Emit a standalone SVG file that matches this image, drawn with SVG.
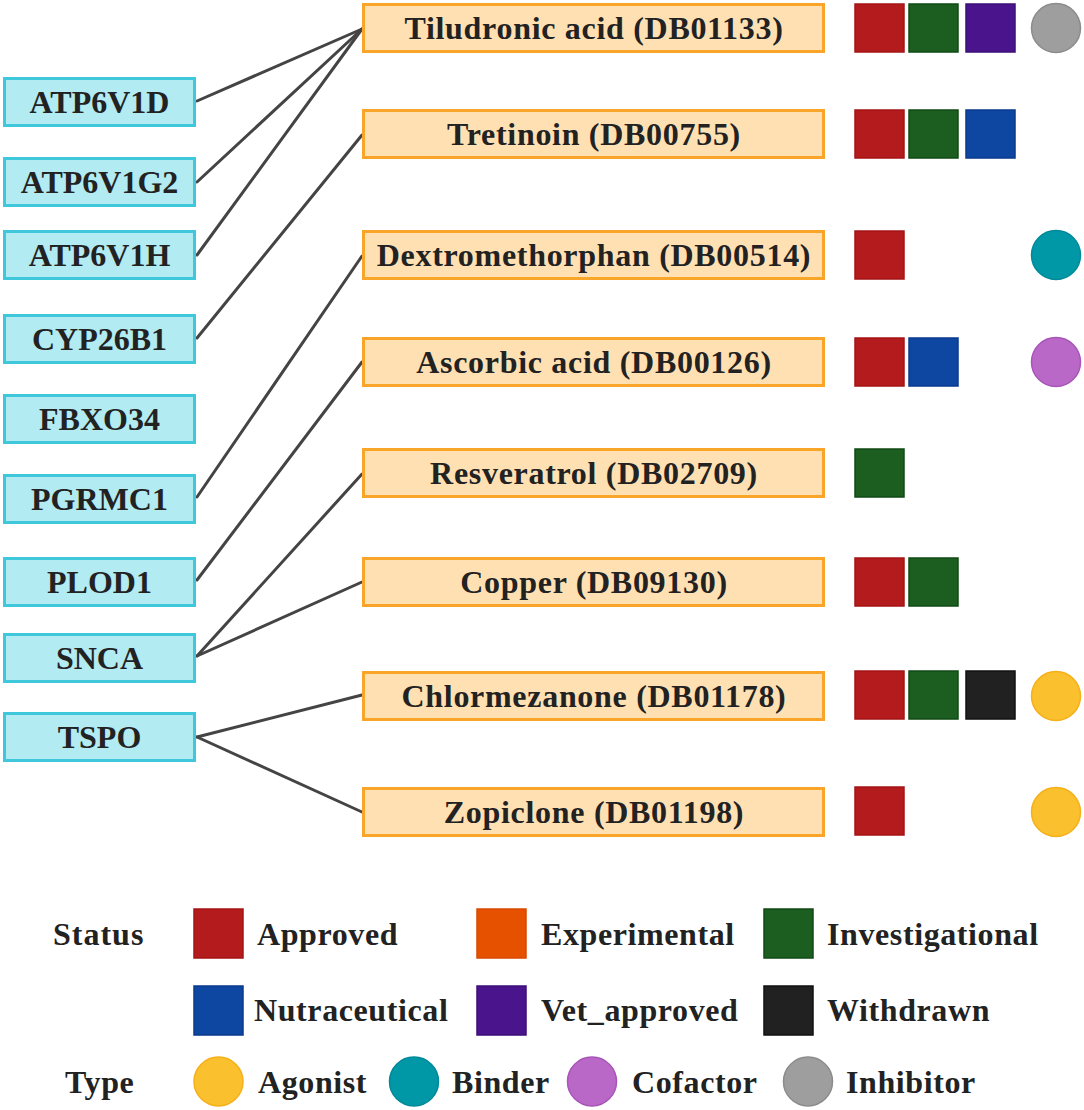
<svg xmlns="http://www.w3.org/2000/svg" width="1084" height="1110" viewBox="0 0 1084 1110">
<style>
text{font-family:"Liberation Serif","Times New Roman",serif;font-weight:bold;fill:#222}
.gene rect{fill:#b2ebf2;stroke:#3fc7dc;stroke-width:3}
.gene text{font-size:32px;text-anchor:middle}
.drug rect{fill:#ffe0b2;stroke:#f9a52a;stroke-width:3}
.drug text{font-size:32px;letter-spacing:0.7px;text-anchor:middle}
.lg{font-size:32px;letter-spacing:0.6px}
.edges line{stroke:#444;stroke-width:3;stroke-linecap:round}
.ap{fill:#b41b1d;stroke:#a51416;stroke-width:1.5}
.ex{fill:#e65100;stroke:#d84a00;stroke-width:1.5}
.iv{fill:#1b5e20;stroke:#104a14;stroke-width:1.5}
.nu{fill:#0d47a1;stroke:#0a3a8c;stroke-width:1.5}
.vt{fill:#4a148c;stroke:#3d0f78;stroke-width:1.5}
.wd{fill:#212121;stroke:#111;stroke-width:1.5}
.ag{fill:#fbc02d;stroke:#f5b01a;stroke-width:1.5}
.bd{fill:#0097a7;stroke:#008a99;stroke-width:1.5}
.cf{fill:#ba68c8;stroke:#a855b8;stroke-width:1.5}
.ih{fill:#9e9e9e;stroke:#8c8c8c;stroke-width:1.5}
</style>
<g class="edges" id="connectors">
<line x1="197" y1="101" x2="362" y2="29"/>
<line x1="197" y1="182" x2="362" y2="29"/>
<line x1="197" y1="255" x2="362" y2="29"/>
<line x1="197" y1="338" x2="362" y2="135"/>
<line x1="197" y1="497" x2="362" y2="256"/>
<line x1="197" y1="580" x2="362" y2="362"/>
<line x1="197" y1="656" x2="362" y2="474"/>
<line x1="197" y1="656" x2="362" y2="582"/>
<line x1="197" y1="737" x2="362" y2="695"/>
<line x1="197" y1="737" x2="362" y2="812"/>
</g>
<g class="gene" id="g-ATP6V1D"><rect x="4.5" y="78.5" width="190" height="47"/><text x="99.5" y="113">ATP6V1D</text></g>
<g class="gene" id="g-ATP6V1G2"><rect x="4.5" y="158.5" width="190" height="47"/><text x="99.5" y="193">ATP6V1G2</text></g>
<g class="gene" id="g-ATP6V1H"><rect x="4.5" y="231.5" width="190" height="47"/><text x="99.5" y="266">ATP6V1H</text></g>
<g class="gene" id="g-CYP26B1"><rect x="4.5" y="315.5" width="190" height="47"/><text x="99.5" y="350">CYP26B1</text></g>
<g class="gene" id="g-FBXO34"><rect x="4.5" y="395.5" width="190" height="47"/><text x="99.5" y="430">FBXO34</text></g>
<g class="gene" id="g-PGRMC1"><rect x="4.5" y="475.5" width="190" height="47"/><text x="99.5" y="510">PGRMC1</text></g>
<g class="gene" id="g-PLOD1"><rect x="4.5" y="558.5" width="190" height="47"/><text x="99.5" y="593">PLOD1</text></g>
<g class="gene" id="g-SNCA"><rect x="4.5" y="634.5" width="190" height="47"/><text x="99.5" y="669">SNCA</text></g>
<g class="gene" id="g-TSPO"><rect x="4.5" y="713.5" width="190" height="47"/><text x="99.5" y="748">TSPO</text></g>

<g class="drug" id="d-DB01133"><rect x="363.5" y="4.5" width="460" height="47"/><text x="594" y="39">Tiludronic acid (DB01133)</text></g>
<g class="drug" id="d-DB00755"><rect x="363.5" y="110.5" width="460" height="47"/><text x="594" y="145">Tretinoin (DB00755)</text></g>
<g class="drug" id="d-DB00514"><rect x="363.5" y="231.5" width="460" height="47"/><text x="594" y="266">Dextromethorphan (DB00514)</text></g>
<g class="drug" id="d-DB00126"><rect x="363.5" y="338.5" width="460" height="47"/><text x="594" y="373">Ascorbic acid (DB00126)</text></g>
<g class="drug" id="d-DB02709"><rect x="363.5" y="449.5" width="460" height="47"/><text x="594" y="484">Resveratrol (DB02709)</text></g>
<g class="drug" id="d-DB09130"><rect x="363.5" y="558.5" width="460" height="47"/><text x="594" y="593">Copper (DB09130)</text></g>
<g class="drug" id="d-DB01178"><rect x="363.5" y="672.5" width="460" height="47"/><text x="594" y="707">Chlormezanone (DB01178)</text></g>
<g class="drug" id="d-DB01198"><rect x="363.5" y="788.5" width="460" height="47"/><text x="594" y="823">Zopiclone (DB01198)</text></g>

<g id="markers">
<rect class="ap" x="855" y="4" width="49" height="48"/><rect class="iv" x="909" y="4" width="49" height="48"/><rect class="vt" x="966" y="4" width="49" height="48"/><circle class="ih" cx="1056" cy="28" r="24.5"/>
<rect class="ap" x="855" y="110" width="49" height="48"/><rect class="iv" x="909" y="110" width="49" height="48"/><rect class="nu" x="966" y="110" width="49" height="48"/>
<rect class="ap" x="855" y="231" width="49" height="48"/><circle class="bd" cx="1056" cy="255" r="24.5"/>
<rect class="ap" x="855" y="338" width="49" height="48"/><rect class="nu" x="909" y="338" width="49" height="48"/><circle class="cf" cx="1056" cy="362" r="24.5"/>
<rect class="iv" x="855" y="449" width="49" height="48"/>
<rect class="ap" x="855" y="558" width="49" height="48"/><rect class="iv" x="909" y="558" width="49" height="48"/>
<rect class="ap" x="855" y="671" width="49" height="48"/><rect class="iv" x="909" y="671" width="49" height="48"/><rect class="wd" x="966" y="671" width="49" height="48"/><circle class="ag" cx="1056" cy="696" r="24.5"/>
<rect class="ap" x="855" y="787" width="49" height="48"/><circle class="ag" cx="1056" cy="812" r="24.5"/>
</g>

<g id="legend">
<text class="lg" x="53" y="945" style="letter-spacing:1px">Status</text>
<rect class="ap" x="194" y="909" width="49" height="49"/><text class="lg" x="257" y="945">Approved</text>
<rect class="ex" x="477" y="909" width="49" height="49"/><text class="lg" x="541" y="945">Experimental</text>
<rect class="iv" x="764" y="909" width="49" height="49"/><text class="lg" x="827" y="945">Investigational</text>
<rect class="nu" x="194" y="986" width="49" height="49"/><text class="lg" x="254" y="1021">Nutraceutical</text>
<rect class="vt" x="477" y="986" width="49" height="49"/><text class="lg" x="541" y="1021">Vet_approved</text>
<rect class="wd" x="764" y="986" width="49" height="49"/><text class="lg" x="827" y="1021">Withdrawn</text>
<text class="lg" x="65" y="1093">Type</text>
<circle class="ag" cx="218.5" cy="1081.5" r="24.5"/><text class="lg" x="258" y="1093">Agonist</text>
<circle class="bd" cx="414" cy="1081.5" r="24.5"/><text class="lg" x="452" y="1093">Binder</text>
<circle class="cf" cx="592" cy="1081.5" r="24.5"/><text class="lg" x="632" y="1093">Cofactor</text>
<circle class="ih" cx="808" cy="1081.5" r="24.5"/><text class="lg" x="846" y="1093">Inhibitor</text>
</g>
</svg>
